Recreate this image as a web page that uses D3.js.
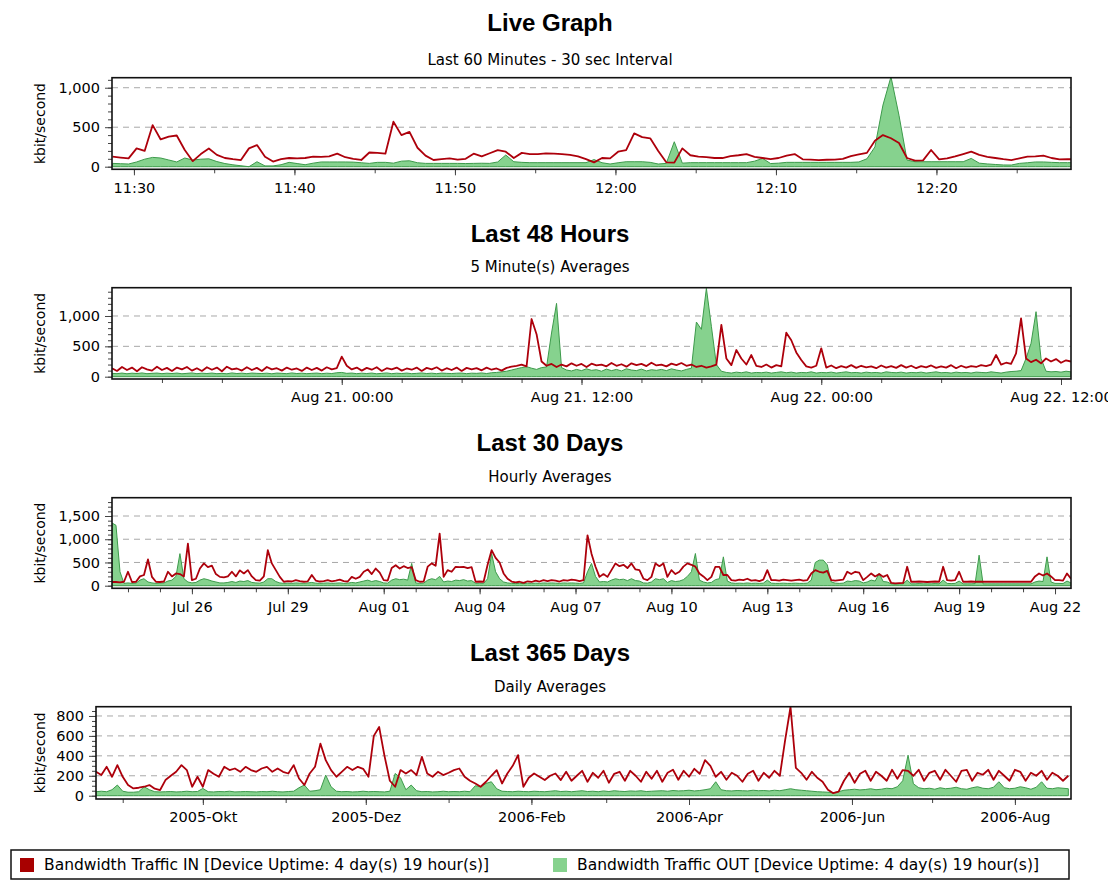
<!DOCTYPE html>
<html>
<head>
<meta charset="utf-8">
<script src="https://cdn.jsdelivr.net/npm/d3@7"></script>
<style>
  body { margin: 0; background: #fff; }
  svg { display: block; }
  .ttl { font-family: "Liberation Sans", Arial, sans-serif; font-weight: bold; font-size: 24px; fill: #000; }
  .sub { font-family: "DejaVu Sans", Verdana, sans-serif; font-size: 15px; fill: #000; }
  .ax text { font-family: "DejaVu Sans", Verdana, sans-serif; font-size: 14.5px; fill: #000; }
  .ax line { stroke: #444; }
  .ax path { display: none; }
  .ylab { font-family: "DejaVu Sans", Verdana, sans-serif; font-size: 14px; fill: #000; }
  .leg { font-family: "DejaVu Sans", Verdana, sans-serif; font-size: 15.5px; fill: #000; }
</style>
</head>
<body>
<div id="chart"></div>
<script>
// ---- data: Live Graph (30 sec samples from 11:28:40) ----
var liveIn = [127,115,105,232,200,527,345,380,395,211,
  70,160,230,150,110,95,84,232,274,127,
  65,95,110,105,110,127,125,130,165,120,
  100,85,180,175,165,570,400,440,240,140,
  85,95,105,90,100,165,130,170,210,190,
  110,175,160,160,169,165,160,150,130,95,
  55,110,105,190,211,422,375,360,200,55,
  51,232,145,127,120,110,110,135,145,160,
  125,110,95,110,140,160,93,90,84,88,
  90,100,135,155,175,330,400,360,300,110,
  78,80,211,93,105,130,160,190,150,125,
  110,95,84,105,127,130,139,110,93,95,
  93];
var liveOut = [42,38,34,60,95,118,110,85,60,110,
  84,95,100,65,40,24,12,0,63,10,
  10,25,55,40,25,45,60,60,60,60,
  58,50,42,55,55,45,70,75,50,42,
  42,42,42,42,40,42,44,42,60,148,
  63,55,51,51,51,51,51,51,51,51,
  90,50,34,50,63,63,63,55,34,42,
  316,45,51,51,51,51,51,51,51,51,
  70,105,40,45,55,55,55,55,55,55,
  55,55,55,60,100,250,780,1139,650,84,
  63,63,63,63,63,63,63,105,45,35,
  28,22,21,42,50,60,60,55,51,51,
  51];
var liveTickTimes = ["11:30","11:40","11:50","12:00","12:10","12:20"];
var liveTickLabels = ["11:30","11:40","11:50","12:00","12:10","12:20"];

// ---- data: Last 48 Hours (15 min samples from Aug 20 12:30) ----
var h48In = [140,95,160,110,150,90,155,120,100,165,
  110,145,95,150,120,160,100,140,95,155,
  115,150,90,165,120,135,100,155,110,145,
  95,160,120,140,100,150,115,135,95,150,
  110,145,100,155,120,140,330,180,120,150,
  100,145,115,155,95,140,120,150,100,135,
  115,150,95,145,120,155,100,140,110,150,
  95,145,120,140,105,150,115,135,100,145,
  165,180,200,170,950,700,250,180,210,160,
  200,170,220,180,210,160,215,185,200,170,
  225,180,205,165,220,190,210,175,230,185,
  200,170,215,190,225,180,200,160,180,150,
  170,200,852,300,190,440,300,200,357,180,
  160,200,150,190,170,725,600,400,275,170,
  150,180,467,150,185,140,175,150,190,145,
  180,155,170,140,185,150,175,145,190,150,
  180,140,175,155,185,145,170,150,190,140,
  180,150,175,160,190,175,200,357,200,230,
  210,385,962,300,240,280,220,300,250,290,
  230,270,250];
var h48Out = [55,50,60,48,58,52,62,50,55,60,
  50,58,52,60,48,55,62,50,58,52,
  60,50,55,48,62,52,58,50,60,55,
  52,58,48,60,55,50,62,52,58,50,
  55,60,50,58,52,65,70,55,60,50,
  58,52,60,48,55,62,50,58,52,60,
  50,55,62,52,58,50,60,55,52,58,
  60,50,58,55,62,52,65,70,80,90,
  110,130,150,165,140,120,150,160,720,1208,
  150,110,95,120,100,130,105,115,90,125,
  100,120,95,130,110,100,125,95,115,105,
  120,100,130,110,95,120,140,900,780,1456,
  830,200,90,70,60,75,65,80,60,70,
  65,75,60,70,80,65,75,60,70,65,
  80,60,70,65,75,60,70,80,65,70,
  60,75,65,70,60,80,70,65,75,60,
  70,65,75,60,70,80,65,70,60,75,
  65,70,60,75,70,65,80,70,60,75,
  85,90,100,300,550,1071,300,90,80,85,
  75,90,80];
var h48TickTimes = ["2006-08-21 00:00","2006-08-21 12:00","2006-08-22 00:00","2006-08-22 12:00"];
var h48TickLabels = ["Aug 21. 00:00","Aug 21. 12:00","Aug 22. 00:00","Aug 22. 12:00"];

// ---- data: Last 30 Days (3 hour samples from Jul 23 12:00) ----
var d30In = [80,80,70,85,300,80,85,200,230,564,
  190,85,80,90,300,200,264,250,200,907,
  120,150,370,480,400,430,250,190,180,200,
  300,200,330,264,335,200,120,110,200,764,
  480,335,190,85,100,90,120,100,85,95,
  230,110,90,100,120,95,110,130,100,90,
  190,150,190,300,350,250,370,280,120,110,
  380,440,370,420,380,400,120,85,90,410,
  480,430,1121,190,335,300,407,400,407,380,
  400,85,90,85,450,764,600,500,264,150,
  90,70,85,60,95,80,110,90,120,100,
  120,110,90,120,110,130,120,100,120,1085,
  690,407,190,250,190,335,480,420,450,380,
  480,350,335,150,120,190,480,420,480,190,
  335,250,300,410,480,450,410,264,200,120,
  190,407,407,230,230,120,110,130,120,150,
  110,120,100,130,335,120,120,110,130,120,
  110,120,130,110,120,264,335,300,280,320,
  120,110,120,130,300,250,300,280,120,190,
  264,200,250,190,230,60,50,55,60,407,
  85,85,90,85,80,85,90,85,407,120,
  110,120,300,85,85,90,85,85,85,85,
  85,85,85,85,85,85,85,85,85,85,
  85,200,264,220,264,200,120,120,110,264,
  150];
var d30Out = [1350,1300,300,50,60,50,55,120,150,80,
  60,50,55,60,100,120,200,690,150,80,
  60,70,120,150,130,100,80,60,60,70,
  90,70,100,90,110,70,60,55,80,150,
  150,90,60,50,55,50,60,55,50,60,
  70,55,50,55,60,50,55,60,50,55,
  70,60,80,100,120,90,110,90,60,55,
  120,150,130,140,120,480,60,50,55,120,
  150,130,200,80,100,90,120,110,130,100,
  110,50,55,50,150,693,300,150,80,60,
  50,45,50,45,55,50,55,50,60,55,
  60,55,50,60,55,60,55,50,60,300,
  480,200,80,90,80,120,150,130,140,110,
  150,110,100,60,55,80,150,130,150,70,
  110,90,100,130,200,300,693,120,80,60,
  70,130,150,621,100,60,50,55,50,60,
  50,55,50,55,120,55,50,50,55,50,
  50,55,50,50,55,120,500,550,550,450,
  80,55,50,55,100,90,110,100,60,80,
  120,100,264,90,80,40,35,40,40,120,
  40,40,45,40,40,40,45,40,120,50,
  45,50,100,40,40,40,45,657,40,40,
  40,40,40,40,40,40,40,40,40,40,
  40,80,100,90,621,80,50,50,45,100,
  60];
var d30TickTimes = ["2006-07-26","2006-07-29","2006-08-01","2006-08-04","2006-08-07",
  "2006-08-10","2006-08-13","2006-08-16","2006-08-19","2006-08-22"];
var d30TickLabels = ["Jul 26","Jul 29","Aug 01","Aug 04","Aug 07",
  "Aug 10","Aug 13","Aug 16","Aug 19","Aug 22"];

// ---- data: Last 365 Days (2 day samples from 2005-08-22) ----
var d365In = [240,207,290,190,307,190,107,73,80,90,
  107,70,57,157,200,240,307,257,90,190,
  90,257,220,190,290,257,273,240,290,257,
  240,273,290,240,273,240,223,307,173,107,
  223,290,523,357,257,190,240,290,257,290,
  270,190,600,690,400,150,90,257,223,257,
  207,390,223,190,240,207,230,257,273,190,
  150,123,90,140,200,257,123,223,300,407,
  90,180,223,190,157,200,223,157,240,150,
  200,250,140,230,180,250,130,220,240,150,
  250,200,140,240,170,250,140,230,260,160,
  250,190,270,220,357,300,190,240,160,230,
  200,140,220,250,150,230,180,250,200,560,
  890,280,230,160,240,180,140,60,25,40,
  150,230,130,220,250,150,240,200,150,260,
  170,257,250,200,260,150,230,250,160,260,
  200,140,250,260,150,230,210,260,160,250,
  200,150,260,240,150,230,200,250,160,230,
  200,150,200];
var d365Out = [40,45,40,60,107,45,35,35,40,90,
  60,40,38,40,42,38,40,45,40,42,
  73,40,38,42,40,45,38,40,42,40,
  38,42,40,45,40,38,42,45,80,107,
  45,50,60,207,90,45,40,42,38,40,
  45,40,42,40,38,45,223,180,60,107,
  50,40,42,38,40,45,40,42,40,45,
  40,100,90,123,140,70,45,42,40,45,
  42,40,45,42,40,45,50,42,45,40,
  45,50,42,45,40,48,42,50,45,42,
  48,45,50,42,45,48,50,45,52,48,
  50,55,48,52,60,70,140,60,50,48,
  52,50,48,55,50,52,48,55,50,60,
  70,60,55,50,45,40,38,35,30,40,
  55,60,65,58,62,70,60,65,75,70,
  90,150,407,120,80,70,75,65,80,70,
  75,85,70,65,80,90,75,70,85,140,
  80,70,75,90,80,65,85,140,75,70,
  80,75,70];
var d365TickTimes = ["2005-10-01","2005-12-01","2006-02-01","2006-04-01","2006-06-01","2006-08-01"];
var d365TickLabels = ["2005-Okt","2005-Dez","2006-Feb","2006-Apr","2006-Jun","2006-Aug"];

var legendLabels = ["Bandwidth Traffic IN [Device Uptime: 4 day(s) 19 hour(s)]",
  "Bandwidth Traffic OUT [Device Uptime: 4 day(s) 19 hour(s)]"];

var parseFull = d3.timeParse("%Y-%m-%d %H:%M:%S");
var parseMin = d3.timeParse("%Y-%m-%d %H:%M");
var parseDay = d3.timeParse("%Y-%m-%d");

var panels = [
  { title: "Live Graph", sub: "Last 60 Minutes - 30 sec Interval",
    top: 77.7, bottom: 169.3, left: 112, yDom: [-33, 1127], yTicks: [0, 500, 1000], yMinor: 100,
    x0: parseFull("2006-08-22 11:28:38"), x1: parseFull("2006-08-22 12:28:23"),
    start: parseFull("2006-08-22 11:28:40"), step: function(t, i) { return d3.timeSecond.offset(t, 30 * i); },
    minor: d3.timeMinute.every(5),
    ticks: liveTickTimes.map(function(s) { return parseMin("2006-08-22 " + s); }), labels: liveTickLabels,
    inV: liveIn, outV: liveOut },
  { title: "Last 48 Hours", sub: "5 Minute(s) Averages",
    top: 287.7, bottom: 379, left: 112, yDom: [-38, 1466], yTicks: [0, 500, 1000], yMinor: 100,
    x0: parseMin("2006-08-20 12:30"), x1: parseMin("2006-08-22 12:30"),
    start: parseMin("2006-08-20 12:30"), step: function(t, i) { return d3.timeMinute.offset(t, 15 * i); },
    minor: d3.timeHour.every(3),
    ticks: h48TickTimes.map(parseMin), labels: h48TickLabels,
    inV: h48In, outV: h48Out },
  { title: "Last 30 Days", sub: "Hourly Averages",
    top: 497.7, bottom: 588.3, left: 112, yDom: [-56, 1894], yTicks: [0, 500, 1000, 1500], yMinor: 100,
    x0: parseMin("2006-07-23 12:00"), x1: parseMin("2006-08-22 12:00"),
    start: parseMin("2006-07-23 12:00"), step: function(t, i) { return d3.timeHour.offset(t, 3 * i); },
    minor: d3.timeDay.every(1),
    ticks: d30TickTimes.map(parseDay), labels: d30TickLabels,
    inV: d30In, outV: d30Out },
  { title: "Last 365 Days", sub: "Daily Averages",
    top: 706.7, bottom: 799, left: 96, yDom: [-33, 893], yTicks: [0, 200, 400, 600, 800], yMinor: 50,
    x0: parseDay("2005-08-22"), x1: parseDay("2006-08-22"),
    start: parseDay("2005-08-22"), step: function(t, i) { return d3.timeDay.offset(t, 2 * i); },
    minor: d3.timeMonth.every(1),
    ticks: d365TickTimes.map(parseDay), labels: d365TickLabels,
    inV: d365In, outV: d365Out }
];

var right = 1071;
var titleY = [22, 233, 442, 652];
var subY = [60, 267, 477, 687];

var svg = d3.select("#chart").append("svg")
  .attr("width", 1108)
  .attr("height", 881);

svg.append("rect").attr("width", 1108).attr("height", 881).attr("fill", "#fff");

panels.forEach(function(p, k) {
  var x = d3.scaleTime().domain([p.x0, p.x1]).range([p.left, right]);
  var y = d3.scaleLinear().domain(p.yDom).range([p.bottom, p.top]);

  svg.append("text").attr("class", "ttl")
    .attr("x", 550).attr("y", titleY[k])
    .attr("text-anchor", "middle").attr("dominant-baseline", "central")
    .text(p.title);
  svg.append("text").attr("class", "sub")
    .attr("x", 550).attr("y", subY[k])
    .attr("text-anchor", "middle").attr("dominant-baseline", "central")
    .text(p.sub);

  // y axis label
  svg.append("text").attr("class", "ylab")
    .attr("transform", "translate(40," + ((p.top + p.bottom) / 2) + ") rotate(-90)")
    .attr("text-anchor", "middle").attr("dominant-baseline", "central")
    .text("kbit/second");

  // grid lines
  svg.append("g").selectAll("line")
    .data(p.yTicks.filter(function(v) { return v > 0; }))
    .enter().append("line")
    .attr("x1", p.left).attr("x2", right)
    .attr("y1", function(d) { return y(d); }).attr("y2", function(d) { return y(d); })
    .attr("stroke", "#a8a8a8").attr("stroke-width", 1)
    .attr("stroke-dasharray", "6,5");

  // clip
  svg.append("clipPath").attr("id", "clip" + k)
    .append("rect")
    .attr("x", p.left).attr("y", p.top)
    .attr("width", right - p.left).attr("height", p.bottom - p.top);

  var outPts = p.outV.map(function(v, i) { return { t: p.step(p.start, i), v: v }; });
  var inPts = p.inV.map(function(v, i) { return { t: p.step(p.start, i), v: v }; });

  var plot = svg.append("g").attr("clip-path", "url(#clip" + k + ")");

  plot.append("path").datum(outPts)
    .attr("fill", "#86d28e")
    .attr("stroke", "#3d9a4b")
    .attr("stroke-width", 1)
    .attr("d", d3.area()
      .x(function(d) { return x(d.t); })
      .y0(y(0))
      .y1(function(d) { return y(d.v); }));

  plot.append("path").datum(inPts)
    .attr("fill", "none")
    .attr("stroke", "#ad000b")
    .attr("stroke-width", 1.8)
    .attr("stroke-linejoin", "round")
    .attr("d", d3.line()
      .x(function(d) { return x(d.t); })
      .y(function(d) { return y(d.v); }));

  // y axis: major + minor ticks
  svg.append("g").attr("class", "ax")
    .attr("transform", "translate(" + p.left + ",0)")
    .call(d3.axisLeft(y).tickValues(d3.range(0, p.yDom[1], p.yMinor)).tickSize(4).tickFormat(""));
  svg.append("g").attr("class", "ax")
    .attr("transform", "translate(" + p.left + ",0)")
    .call(d3.axisLeft(y).tickValues(p.yTicks).tickSize(7).tickPadding(5).tickFormat(d3.format(",")));

  // x axis: minor + labelled ticks
  svg.append("g").attr("class", "ax")
    .attr("transform", "translate(0," + p.bottom + ")")
    .call(d3.axisBottom(x).ticks(p.minor).tickSize(4).tickFormat(""));
  svg.append("g").attr("class", "ax")
    .attr("transform", "translate(0," + p.bottom + ")")
    .call(d3.axisBottom(x).tickValues(p.ticks).tickSize(6).tickPadding(7)
      .tickFormat(function(d, i) { return p.labels[i]; }));

  // frame
  svg.append("rect")
    .attr("x", p.left).attr("y", p.top)
    .attr("width", right - p.left).attr("height", p.bottom - p.top)
    .attr("fill", "none").attr("stroke", "#111").attr("stroke-width", 1.6);
});

// legend
var legend = svg.append("g");
legend.append("rect")
  .attr("x", 11).attr("y", 850).attr("width", 1058).attr("height", 29)
  .attr("fill", "none").attr("stroke", "#111").attr("stroke-width", 1.5);
var legColors = ["#a80000", "#86d28e"];
var legX = [20, 553];
legendLabels.forEach(function(lbl, i) {
  legend.append("rect")
    .attr("x", legX[i]).attr("y", 858).attr("width", 14).attr("height", 14)
    .attr("fill", legColors[i]);
  legend.append("text").attr("class", "leg")
    .attr("x", legX[i] + 24).attr("y", 865)
    .attr("dominant-baseline", "central")
    .text(lbl);
});
</script>
</body>
</html>
